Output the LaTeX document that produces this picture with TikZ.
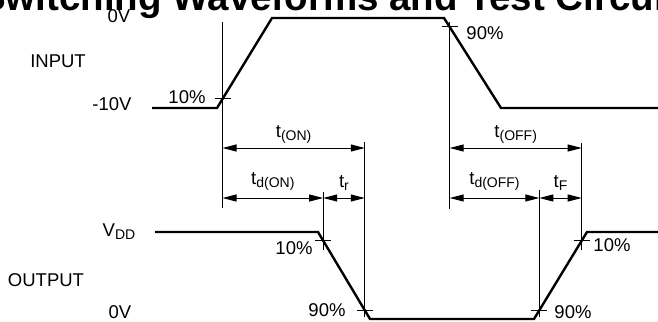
\documentclass[tikz,border=0pt]{standalone}
\usepackage{fontspec}
\setmainfont{Liberation Sans}
\usetikzlibrary{arrows.meta,calc}
\newcommand{\pedice}[1]{\raisebox{-3pt}{\fontsize{14}{15}\selectfont #1}} % pedice abbassato

\begin{document}
\begin{tikzpicture}[x=1pt,y=-1pt,font=\fontsize{18.5}{21}\selectfont,
    onda/.style={line width=2.4pt,line join=miter},
    guida/.style={line width=1pt},
    quota/.style={guida,>={Triangle[length=14pt,width=7pt]},<->}]
\useasboundingbox (0,0) rectangle (658,321);
\clip (0,0) rectangle (658,321);

% titolo (tagliato in alto)
\node[anchor=base west,inner sep=0pt,font=\fontsize{38.5}{42}\selectfont\bfseries] (titolo)
     at (-20,11) {Switching Waveforms and Test Circuits};

% segnale di ingresso
\coordinate (inA) at (217,108);
\coordinate (inB) at (272,18);
\coordinate (inC) at (444,18);
\coordinate (inD) at (501,108);
\coordinate (in10) at ($(inA)!0.1!(inB)$); % 10% salita
\coordinate (in90) at ($(inC)!0.1!(inD)$); % 90% discesa
% segnale di uscita
\coordinate (outA) at (318,232);
\coordinate (outB) at (370,319);
\coordinate (outC) at (534,319);
\coordinate (outD) at (587,232);
\coordinate (out10a) at ($(outA)!0.1!(outB)$); % 10% discesa
\coordinate (out90a) at ($(outA)!0.9!(outB)$); % 90% discesa
\coordinate (out90b) at ($(outC)!0.1!(outD)$); % 90% salita
\coordinate (out10b) at ($(outC)!0.9!(outD)$); % 10% salita
% livelli delle quote
\coordinate (qsu) at (0,148);
\coordinate (qgiu) at (0,198);

\draw[onda] (152,108) -- (inA) -- (inB) -- (inC) -- (inD) -- (658,108); % ingresso
\draw[onda] (155,232) -- (outA) -- (outB) -- (outC) -- (outD) -- (658,232); % uscita

% linee verticali di riferimento
\draw[guida] (in10 |- 0,22) -- (in10 |- 0,208);
\draw[guida] (in90 |- 0,22) -- (in90 |- 0,209);
\draw[guida] (out10a |- 0,192) -- (out10a |- 0,250);
\draw[guida] (out90a |- 0,142) -- (out90a |- 0,317);
\draw[guida] (out90b |- 0,190) -- (out90b |- 0,317);
\draw[guida] (out10b |- 0,143) -- (out10b |- 0,250);
% tacche orizzontali
\foreach \p in {in10,in90,out10a,out90a,out90b,out10b}
  \draw[guida] (\p) +(-8,0) -- +(8,0);

% quote dei tempi
\draw[quota] (in10 |- qsu) -- node[above=1pt] (ton) {t\pedice{(ON)}} (out90a |- qsu);
\draw[quota] (in90 |- qsu) -- node[above=1pt] (toff) {t\pedice{(OFF)}} (out10b |- qsu);
\draw[quota] (in10 |- qgiu) -- node[above=4pt] (tdon) {t\pedice{d(ON)}} (out10a |- qgiu);
\draw[quota] (out10a |- qgiu) -- node[above=4pt] (tr) {t\pedice{r}} (out90a |- qgiu);
\draw[quota] (in90 |- qgiu) -- node[above=4pt] (tdoff) {t\pedice{d(OFF)}} (out90b |- qgiu);
\draw[quota] (out90b |- qgiu) -- node[above=4pt] (tf) {t\pedice{F}} (out10b |- qgiu);

% etichette
\node (zerosu) at (119,16) {0V};
\node (input) at (58,61) {INPUT};
\node (meno10) at (112,104) {-10V};
\node (in10lbl) at (187,97) {10\%};
\node (in90lbl) at (485,33) {90\%};
\node (vdd) at (119,232) {V\pedice{DD}};
\node (out10albl) at (294,248) {10\%};
\node (output) at (46,280) {OUTPUT};
\node (zerogiu) at (120,312) {0V};
\node (out90albl) at (327,310) {90\%};
\node (out10blbl) at (612,245) {10\%};
\node (out90blbl) at (573,312) {90\%};
\end{tikzpicture}
\end{document}
